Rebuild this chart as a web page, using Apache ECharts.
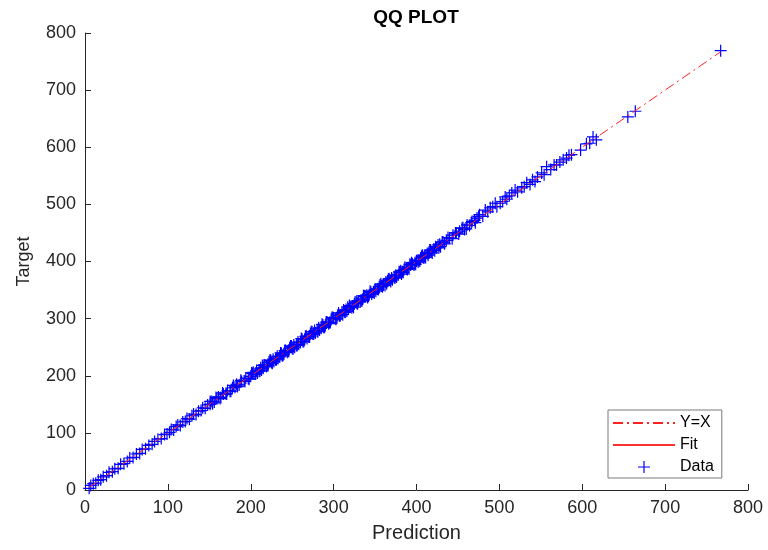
<!DOCTYPE html>
<html>
<head>
<meta charset="utf-8">
<script src="https://cdn.jsdelivr.net/npm/echarts@6/dist/echarts.min.js"></script>
<style>html,body{margin:0;padding:0;background:#fff;}#c{width:768px;height:550px;}</style>
</head>
<body>
<div id="c"></div>
<script>
// Prediction values (x)
const prediction = [
  5, 7, 10, 13, 16, 19, 22, 26, 29, 33, 36, 40, 43, 47, 51, 54, 58, 62, 66, 69, 73, 77, 81, 84, 88, 92, 96, 99,
  102, 104, 107, 110, 112, 115, 118, 121, 123, 126, 129, 131, 134, 137, 140, 142, 145, 148, 151, 153, 156, 159, 161, 164, 167, 170, 172, 175, 178, 181, 183, 186, 189, 192, 194, 197,
  200, 202, 205, 207, 210, 212, 215, 217, 220, 222, 225, 227, 230, 232, 235, 237, 240, 242, 245, 247, 250, 252, 255, 257, 260, 262, 265, 267, 270, 272, 275, 277, 280, 282, 285, 287, 290, 292, 295, 297,
  300, 302, 305, 307, 310, 313, 315, 318, 320, 323, 325, 328, 330, 333, 335, 338, 340, 343, 345, 348, 350, 353, 355, 358, 360, 363, 365, 368, 370, 373, 375, 378, 380, 383, 385, 388, 390, 393, 395, 398, 400, 403, 405, 408, 410, 413, 415, 418,
  421, 424, 428, 432, 436, 440, 444, 448, 452, 455, 458, 461, 464, 467, 470, 473, 476, 480, 483, 486, 489, 492, 495, 497, 501, 504, 507, 509, 512, 515, 519, 522, 527, 530, 533, 537, 540, 543, 546, 551, 554, 557, 562, 566, 569, 573, 577, 581, 584, 587, 598, 605, 609, 613, 617,
  655, 664, 767,
  151, 154, 158, 163, 166, 171, 176, 179, 184, 188, 193, 198, 201, 206, 211, 214, 219, 223, 226, 231, 236, 239, 244, 248, 251, 256, 261, 264, 268, 273, 276, 281, 286, 289, 294, 298, 303, 306, 311, 316,
  319, 324, 328, 332, 336, 341, 344, 349, 354, 357, 362, 366, 369, 374, 379, 382, 386, 391, 394, 399, 404, 407, 411, 416, 419, 423, 427, 431, 434, 438, 443, 447, 451, 456, 460, 466, 471, 475,
  203, 208, 213, 216, 221, 224, 228, 233, 238, 241, 246, 249, 253, 258, 263, 266, 271, 274, 278, 283, 288, 291, 296, 299, 304, 308, 312, 314,
  317, 322, 326, 329, 334, 337, 342, 346, 351, 356, 359, 364, 367, 371, 376, 381, 384, 389, 392, 397, 402, 406, 409, 414, 417, 422, 426, 429
];
// Target values (y)
const target = [
  3, 8, 11, 12, 17, 18, 23, 25, 31, 32, 37, 38, 45, 46, 50, 56, 57, 63, 64, 71, 72, 78, 80, 85, 89, 90, 97, 98,
  101, 106, 105, 111, 114, 113, 119, 120, 125, 124, 130, 133, 132, 138, 139, 144, 143, 149, 150, 155, 154, 160, 163, 162, 168, 169, 174, 173, 179, 180, 185, 184, 190, 191, 196, 195,
  199, 204, 203, 209, 208, 214, 213, 219, 218, 224, 223, 229, 228, 234, 233, 239, 238, 244, 243, 249, 248, 254, 253, 259, 258, 264, 263, 269, 268, 274, 273, 279, 278, 284, 283, 289, 288, 294, 293, 299,
  301, 300, 306, 305, 311, 312, 316, 317, 321, 322, 326, 327, 331, 332, 334, 339, 341, 342, 346, 347, 351, 352, 356, 357, 359, 364, 366, 367, 371, 372, 376, 377, 381, 382, 386, 387, 389, 394, 396, 397, 401, 402, 406, 407, 409, 414, 416, 417,
  422, 424, 430, 434, 437, 441, 446, 450, 453, 458, 456, 464, 463, 470, 472, 476, 482, 479, 490, 487, 494, 496, 502, 496, 502, 505, 513, 509, 515, 520, 525, 522, 529, 531, 538, 535, 543, 540, 548, 555, 552, 566, 561, 569, 569, 574, 578, 581, 586, 587, 595, 606, 607, 618, 613,
  653, 663, 769,
  155, 151, 162, 160, 170, 168, 173, 183, 181, 192, 190, 194, 205, 203, 208, 218, 216, 227, 222, 228, 240, 236, 241, 252, 247, 253, 265, 260, 265, 277, 273, 277, 290, 285, 291, 302, 299, 310, 307, 313,
  323, 320, 331, 329, 340, 337, 348, 345, 351, 361, 358, 369, 365, 371, 382, 378, 390, 387, 398, 395, 401, 411, 407, 420, 415, 426, 424, 434, 431, 442, 440, 450, 448, 459, 457, 468, 468, 479,
  206, 205, 210, 219, 218, 227, 225, 230, 235, 244, 243, 252, 250, 255, 260, 269, 268, 277, 275, 280, 285, 294, 293, 302, 301, 305, 315, 311,
  320, 319, 329, 326, 331, 340, 339, 343, 348, 359, 356, 361, 370, 368, 373, 384, 381, 386, 395, 394, 399, 409, 406, 411, 420, 419, 429, 426
];
// Y=X reference line range
const yxRange = [5, 767];
// Axis ticks
const xTicks = [0, 100, 200, 300, 400, 500, 600, 700, 800];
const yTicks = [0, 100, 200, 300, 400, 500, 600, 700, 800];

const scatterData = prediction.map((p, i) => [p, target[i]]);
const yxData = yxRange.map(v => [v, v]);
const plusPath = 'path://M5.4,0L6.6,0L6.6,5.4L12,5.4L12,6.6L6.6,6.6L6.6,12L5.4,12L5.4,6.6L0,6.6L0,5.4L5.4,5.4Z';
const FONT = '"Liberation Sans", Arial, Helvetica, sans-serif';
const TXT = '#262626';

const chart = echarts.init(document.getElementById('c'), null, {renderer: 'canvas'});
const axisCommon = {
  type: 'value',
  min: xTicks[0],
  max: xTicks[xTicks.length - 1],
  interval: 100,
  splitLine: {show: false},
  axisLine: {show: true, onZero: false, lineStyle: {color: TXT, width: 1}},
  axisTick: {show: true, inside: true, length: 6, lineStyle: {color: TXT, width: 1}},
  axisLabel: {color: TXT, fontSize: 18, fontFamily: FONT},
  nameLocation: 'middle',
  nameTextStyle: {color: TXT, fontFamily: FONT}
};
const hiddenSym = {color: 'rgba(0,0,0,0)', borderWidth: 0, borderColor: 'rgba(0,0,0,0)'};
chart.setOption({
  animation: false,
  backgroundColor: '#ffffff',
  title: {
    text: 'QQ PLOT',
    left: 416,
    top: 8,
    padding: 0,
    textAlign: 'center',
    textStyle: {fontSize: 19, fontWeight: 'bold', color: '#000', fontFamily: FONT}
  },
  grid: {left: 85, right: 20, top: 33, bottom: 60, containLabel: false},
  xAxis: Object.assign({}, axisCommon, {
    name: 'Prediction',
    nameGap: 33,
    nameTextStyle: {color: TXT, fontFamily: FONT, fontSize: 20},
    axisLabel: Object.assign({}, axisCommon.axisLabel, {margin: 9})
  }),
  yAxis: Object.assign({}, axisCommon, {
    min: yTicks[0],
    max: yTicks[yTicks.length - 1],
    name: 'Target',
    nameGap: 52,
    nameTextStyle: {color: TXT, fontFamily: FONT, fontSize: 18},
    axisLabel: Object.assign({}, axisCommon.axisLabel, {margin: 9})
  }),
  legend: {
    orient: 'vertical',
    left: 608,
    top: 410,
    padding: [5, 8, 3, 4],
    itemWidth: 62,
    itemHeight: 12,
    itemGap: 6,
    borderColor: '#7a7a7a',
    borderWidth: 1,
    borderRadius: 0,
    backgroundColor: '#ffffff',
    textStyle: {fontSize: 16, color: '#000', fontFamily: FONT},
    data: [
      {name: 'Y=X', itemStyle: hiddenSym},
      {name: 'Fit', itemStyle: hiddenSym},
      {name: 'Data', icon: plusPath, itemStyle: {color: '#0000ff'}}
    ]
  },
  series: [
    {
      name: 'Data',
      type: 'scatter',
      data: scatterData,
      symbol: plusPath,
      symbolSize: 12,
      symbolKeepAspect: true,
      itemStyle: {color: '#0000ff', opacity: 1},
      z: 2
    },
    {
      name: 'Y=X',
      type: 'line',
      data: yxData,
      symbol: 'none',
      lineStyle: {color: '#ff2020', width: 1, type: [10, 4, 2, 4]},
      z: 3
    },
    {
      name: 'Fit',
      type: 'line',
      data: [],
      symbol: 'none',
      lineStyle: {color: '#ff3030', width: 1, type: 'solid'},
      z: 3
    }
  ]
});
</script>
</body>
</html>
